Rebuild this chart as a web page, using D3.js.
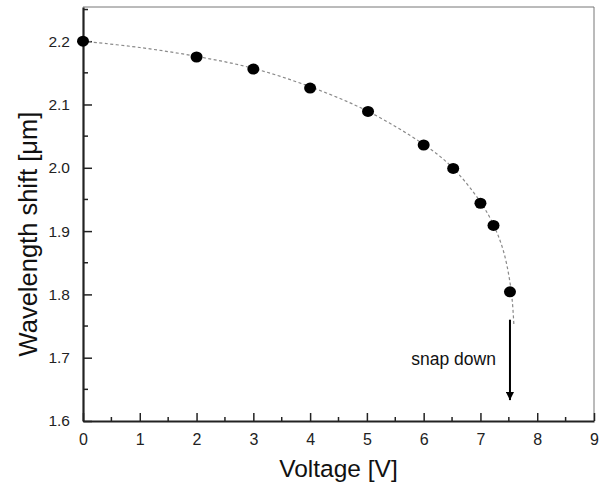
<!DOCTYPE html>
<html>
<head>
<meta charset="utf-8">
<script src="https://cdnjs.cloudflare.com/ajax/libs/d3/7.8.5/d3.min.js"></script>
<style>
	body { margin: 0; background: #fff; }
	svg { font-family: Arial, "Liberation Sans", sans-serif; }
	.tick text { fill: #222; }
</style>
</head>
<body>
<div id="chart"></div>
<script>
// measured points
var voltage    = [0, 2, 3, 4, 5.02, 6, 6.52, 7, 7.23, 7.52];
var wavelength = [2.2, 2.175, 2.156, 2.126, 2.089, 2.036, 1.999, 1.944, 1.909, 1.804];

// dotted fit curve
var fitV = [0, 1, 2, 3, 4, 5, 6, 6.5, 7, 7.25, 7.4, 7.5, 7.56, 7.59];
var fitW = [2.2, 2.19, 2.176, 2.157, 2.128, 2.09, 2.037, 2.001, 1.946, 1.906, 1.87, 1.83, 1.79, 1.75];

var xTicks = [0, 1, 2, 3, 4, 5, 6, 7, 8, 9];
var yTicks = [1.6, 1.7, 1.8, 1.9, 2.0, 2.1, 2.2];

// snap-down annotation
var snapV = 7.52, snapFrom = 1.76, snapTo = 1.633;

var W = 602, H = 484;
var m = {left: 83, right: 8, top: 7, bottom: 63};

var svg = d3.select("#chart").append("svg")
	.attr("width", W).attr("height", H);

var x = d3.scaleLinear().domain([0, 9]).range([m.left, W - m.right]);
var y = d3.scaleLinear().domain([1.6, 2.254]).range([H - m.bottom, m.top]);

// frame: thin top and right lines
svg.append("line")
	.attr("x1", x(0)).attr("x2", x(9)).attr("y1", y(2.254)).attr("y2", y(2.254))
	.attr("stroke", "#777").attr("stroke-width", 1);
svg.append("line")
	.attr("x1", x(9)).attr("x2", x(9)).attr("y1", y(2.254)).attr("y2", y(1.6))
	.attr("stroke", "#777").attr("stroke-width", 1);

// minor ticks
var xMinor = d3.range(0.5, 9, 1);
var yMinor = d3.range(1.65, 2.26, 0.1);

svg.append("g").selectAll("line").data(xMinor).join("line")
	.attr("x1", d => x(d)).attr("x2", d => x(d))
	.attr("y1", y(1.6)).attr("y2", y(1.6) - 4)
	.attr("stroke", "#222").attr("stroke-width", 1.5);
svg.append("g").selectAll("line").data(yMinor).join("line")
	.attr("x1", x(0)).attr("x2", x(0) + 5)
	.attr("y1", d => y(d)).attr("y2", d => y(d))
	.attr("stroke", "#222").attr("stroke-width", 1.5);

// axes
var xAxis = svg.append("g")
	.attr("transform", "translate(0," + y(1.6) + ")")
	.call(d3.axisBottom(x).tickValues(xTicks).tickFormat(d3.format("d"))
		.tickSizeInner(-8).tickSizeOuter(0).tickPadding(13));
xAxis.select(".domain").attr("stroke", "#222").attr("stroke-width", 2.2);
xAxis.selectAll(".tick line").attr("stroke", "#222").attr("stroke-width", 1.5);
xAxis.selectAll(".tick text").attr("font-size", 16).attr("font-family", "Arial, 'Liberation Sans', sans-serif");

var yAxis = svg.append("g")
	.attr("transform", "translate(" + x(0) + ",0)")
	.call(d3.axisLeft(y).tickValues(yTicks).tickFormat(d3.format(".1f"))
		.tickSizeInner(-9).tickSizeOuter(0).tickPadding(13));
yAxis.select(".domain").attr("stroke", "#222").attr("stroke-width", 2.2);
yAxis.selectAll(".tick line").attr("stroke", "#222").attr("stroke-width", 1.5);
yAxis.selectAll(".tick text").attr("font-size", 15.5).attr("font-family", "Arial, 'Liberation Sans', sans-serif");

// fit curve
var fitData = fitV.map((v, i) => [v, fitW[i]]);
svg.append("path")
	.datum(fitData)
	.attr("fill", "none")
	.attr("stroke", "#8a8a8a")
	.attr("stroke-width", 1.2)
	.attr("stroke-dasharray", "3,2.5")
	.attr("d", d3.line().x(d => x(d[0])).y(d => y(d[1])).curve(d3.curveCatmullRom));

// points
svg.append("g").selectAll("ellipse")
	.data(voltage.map((v, i) => [v, wavelength[i]]))
	.join("ellipse")
	.attr("cx", d => x(d[0])).attr("cy", d => y(d[1]))
	.attr("rx", 6).attr("ry", 5.5)
	.attr("fill", "#000");

// arrow
svg.append("defs").append("marker")
	.attr("id", "head").attr("viewBox", "0 0 10 10")
	.attr("refX", 10).attr("refY", 5)
	.attr("markerWidth", 4).attr("markerHeight", 4)
	.attr("markerUnits", "strokeWidth")
	.attr("orient", "auto")
	.append("path").attr("d", "M0,0 L10,5 L0,10 z").attr("fill", "#000");

svg.append("line")
	.attr("x1", x(snapV)).attr("x2", x(snapV))
	.attr("y1", y(snapFrom)).attr("y2", y(snapTo))
	.attr("stroke", "#000").attr("stroke-width", 2)
	.attr("marker-end", "url(#head)");

svg.append("text")
	.attr("x", x(snapV) - 14).attr("y", y(snapFrom) + 45)
	.attr("text-anchor", "end")
	.attr("font-size", 17.5).attr("fill", "#111")
	.text("snap down");

// axis titles
svg.append("text")
	.attr("x", (x(0) + x(9)) / 2).attr("y", 477)
	.attr("text-anchor", "middle")
	.attr("font-size", 24.5).attr("fill", "#111")
	.text("Voltage [V]");

svg.append("text")
	.attr("transform", "translate(37,234) rotate(-90)")
	.attr("text-anchor", "middle")
	.attr("font-size", 25.5).attr("fill", "#111")
	.text("Wavelength shift [\u03bcm]");
</script>
</body>
</html>
